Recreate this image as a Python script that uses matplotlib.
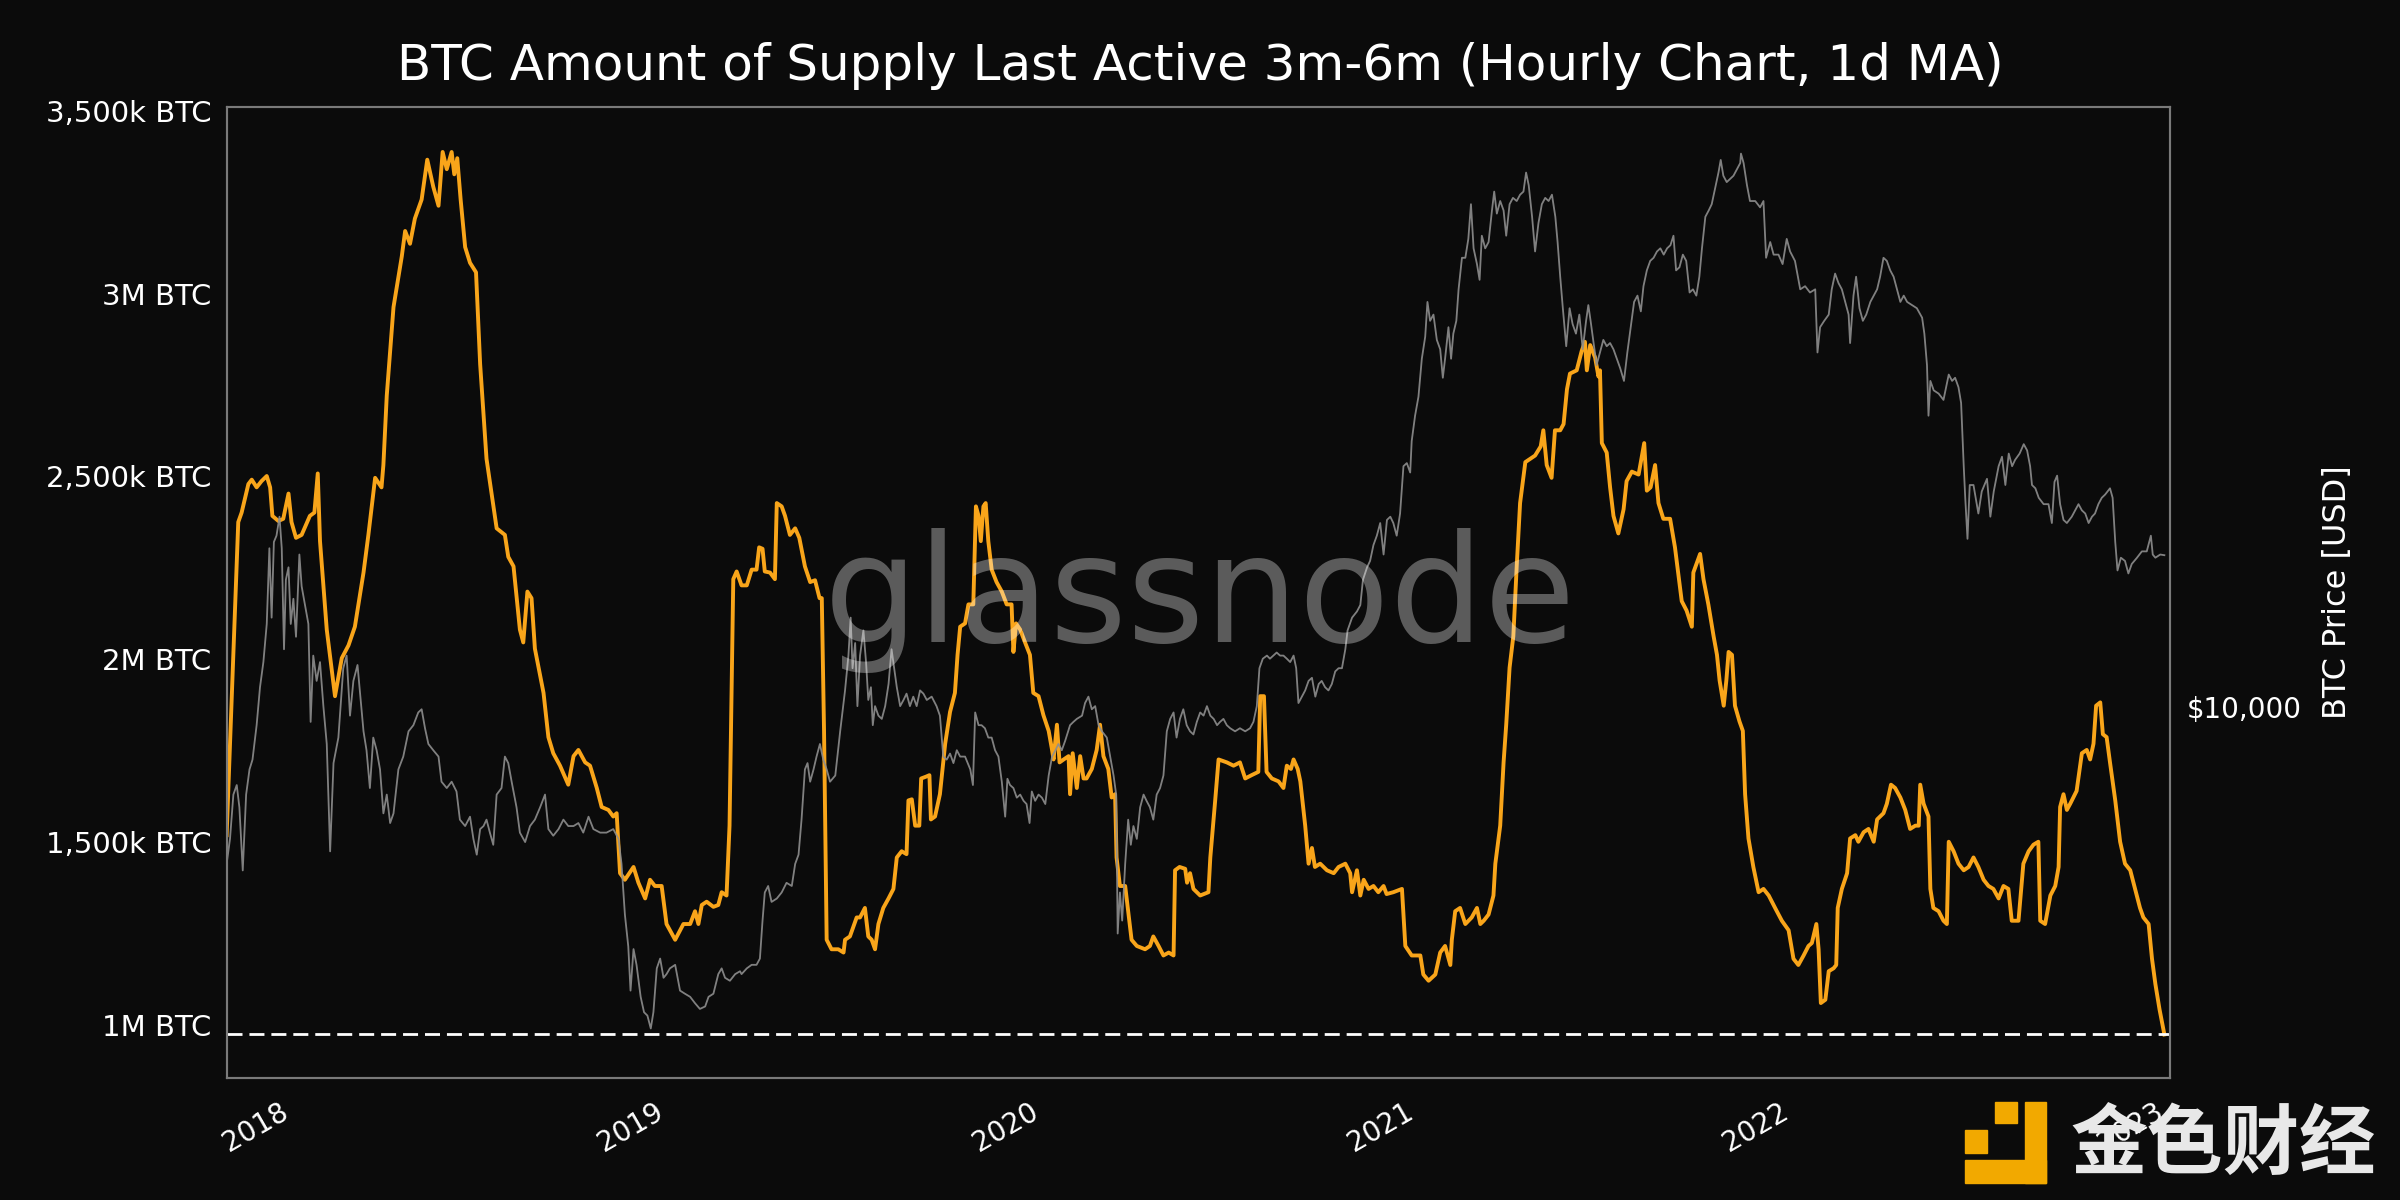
import matplotlib
matplotlib.use("Agg")
import matplotlib.pyplot as plt
from matplotlib.patches import Rectangle
from matplotlib.ticker import NullLocator

# supply last active 3m-6m, in million BTC (time in decimal years)
supply_t = [
    2017.823, 2017.854, 2017.863, 2017.881, 2017.890, 2017.903, 2017.916, 2017.930, 2017.939, 2017.945,
    2017.961, 2017.974, 2017.988, 2017.996, 2018.008, 2018.023, 2018.045, 2018.057, 2018.066, 2018.072,
    2018.090, 2018.112, 2018.130, 2018.148, 2018.165, 2018.188, 2018.201, 2018.219, 2018.236, 2018.241,
    2018.250, 2018.268, 2018.290, 2018.299, 2018.312, 2018.325, 2018.343, 2018.358, 2018.374, 2018.388,
    2018.399, 2018.410, 2018.423, 2018.430, 2018.438, 2018.447, 2018.459, 2018.472, 2018.488, 2018.499,
    2018.516, 2018.543, 2018.565, 2018.574, 2018.588, 2018.605, 2018.614, 2018.625, 2018.636, 2018.645,
    2018.668, 2018.681, 2018.694, 2018.712, 2018.734, 2018.748, 2018.761, 2018.779, 2018.792, 2018.810,
    2018.823, 2018.841, 2018.854, 2018.863, 2018.872, 2018.885, 2018.908, 2018.921, 2018.939, 2018.952,
    2018.965, 2018.983, 2018.996, 2019.019, 2019.041, 2019.059, 2019.072, 2019.081, 2019.090, 2019.103,
    2019.121, 2019.134, 2019.143, 2019.156, 2019.164, 2019.174, 2019.183,
    2019.196, 2019.210, 2019.223, 2019.236, 2019.243, 2019.252, 2019.258, 2019.272, 2019.285, 2019.290,
    2019.303, 2019.312, 2019.325, 2019.339, 2019.350, 2019.365, 2019.379, 2019.392, 2019.404, 2019.410,
    2019.416, 2019.423, 2019.436, 2019.454, 2019.468, 2019.472, 2019.485, 2019.503, 2019.512, 2019.525,
    2019.534, 2019.543, 2019.552, 2019.561, 2019.574, 2019.588, 2019.601, 2019.610, 2019.623, 2019.636,
    2019.641, 2019.650, 2019.659, 2019.670, 2019.675, 2019.688, 2019.697, 2019.701, 2019.712, 2019.725,
    2019.739, 2019.752, 2019.765, 2019.772, 2019.779, 2019.792, 2019.801, 2019.814, 2019.821, 2019.828,
    2019.834, 2019.841, 2019.847, 2019.854, 2019.863, 2019.876, 2019.890, 2019.903, 2019.916, 2019.921,
    2019.928, 2019.939, 2019.952, 2019.965, 2019.974, 2019.988, 2020.001, 2020.015, 2020.024, 2020.028,
    2020.037, 2020.044, 2020.055, 2020.068, 2020.072, 2020.079, 2020.090, 2020.099, 2020.108, 2020.116,
    2020.130, 2020.143, 2020.152, 2020.161, 2020.174, 2020.183, 2020.192, 2020.196, 2020.205, 2020.219,
    2020.236, 2020.250, 2020.272, 2020.285, 2020.294, 2020.308, 2020.321, 2020.335, 2020.348, 2020.352,
    2020.364, 2020.379, 2020.384, 2020.392, 2020.401, 2020.419, 2020.441, 2020.446, 2020.459, 2020.468,
    2020.490, 2020.508, 2020.525, 2020.539, 2020.556, 2020.574, 2020.579, 2020.589, 2020.596, 2020.610,
    2020.628, 2020.641, 2020.650, 2020.661, 2020.668, 2020.679, 2020.686, 2020.699, 2020.708, 2020.717,
    2020.725, 2020.739, 2020.757, 2020.775, 2020.788, 2020.806, 2020.819, 2020.824, 2020.837, 2020.846,
    2020.855, 2020.868, 2020.881, 2020.894, 2020.908, 2020.916, 2020.934, 2020.957, 2020.966, 2020.983,
    2021.006, 2021.014, 2021.028, 2021.046, 2021.059, 2021.072, 2021.086, 2021.090, 2021.099, 2021.112,
    2021.126, 2021.143, 2021.157, 2021.166, 2021.175, 2021.188, 2021.201, 2021.206, 2021.219, 2021.228,
    2021.235, 2021.244, 2021.254, 2021.263, 2021.272, 2021.286, 2021.299, 2021.312, 2021.327, 2021.334,
    2021.343, 2021.356, 2021.365, 2021.379, 2021.388, 2021.397, 2021.405, 2021.423, 2021.436, 2021.445,
    2021.450, 2021.459, 2021.472, 2021.481, 2021.485, 2021.490, 2021.503, 2021.512, 2021.521, 2021.534,
    2021.548, 2021.556, 2021.570, 2021.588, 2021.603, 2021.610, 2021.620, 2021.632, 2021.641, 2021.654,
    2021.672, 2021.685, 2021.703, 2021.716, 2021.730, 2021.734, 2021.752,
    2021.761, 2021.774, 2021.788, 2021.797, 2021.804, 2021.815, 2021.822, 2021.828, 2021.837, 2021.845,
    2021.857, 2021.866, 2021.872, 2021.881, 2021.894, 2021.908, 2021.921, 2021.935, 2021.952, 2021.970,
    2021.988, 2022.001, 2022.014, 2022.028, 2022.041, 2022.050, 2022.062, 2022.068, 2022.074, 2022.086,
    2022.095, 2022.108, 2022.115, 2022.119, 2022.130, 2022.144, 2022.152, 2022.166, 2022.174, 2022.188,
    2022.201, 2022.215, 2022.224, 2022.241, 2022.250, 2022.261, 2022.272, 2022.286, 2022.299, 2022.312,
    2022.326, 2022.335, 2022.339, 2022.348, 2022.361, 2022.366, 2022.374, 2022.388, 2022.401, 2022.410,
    2022.415, 2022.428, 2022.441, 2022.455, 2022.468, 2022.481, 2022.494, 2022.508, 2022.521, 2022.534,
    2022.548, 2022.561, 2022.574, 2022.583, 2022.601, 2022.614, 2022.628, 2022.641, 2022.654, 2022.659,
    2022.672, 2022.686, 2022.699, 2022.708, 2022.712, 2022.721, 2022.730, 2022.739, 2022.756, 2022.770,
    2022.783, 2022.792, 2022.801, 2022.808, 2022.819, 2022.826, 2022.836, 2022.845, 2022.859, 2022.872,
    2022.885, 2022.899, 2022.912, 2022.925, 2022.934, 2022.948, 2022.957, 2022.966, 2022.977, 2022.990,
]
supply_m = [
    1.519, 2.375, 2.401, 2.479, 2.491, 2.470, 2.487, 2.501, 2.470, 2.392,
    2.378, 2.384, 2.453, 2.375, 2.332, 2.340, 2.392, 2.401, 2.508, 2.323,
    2.081, 1.899, 2.003, 2.038, 2.089, 2.237, 2.340, 2.496, 2.470, 2.531,
    2.721, 2.963, 3.101, 3.171, 3.136, 3.205, 3.257, 3.366, 3.292, 3.240,
    3.387, 3.340, 3.387, 3.326, 3.370, 3.257, 3.127, 3.084, 3.058, 2.807,
    2.548, 2.358, 2.340, 2.280, 2.254, 2.081, 2.046, 2.185, 2.167, 2.029,
    1.908, 1.787, 1.743, 1.709, 1.657, 1.735, 1.752, 1.718, 1.709, 1.648,
    1.596, 1.588, 1.570, 1.579, 1.415, 1.397, 1.432, 1.389, 1.346, 1.397,
    1.380, 1.380, 1.276, 1.233, 1.276, 1.276, 1.311, 1.276, 1.328, 1.337,
    1.323, 1.328, 1.363, 1.354, 1.545, 2.219, 2.240,
    2.202, 2.202, 2.245, 2.245, 2.306, 2.302, 2.240, 2.237, 2.219, 2.427,
    2.418, 2.392, 2.340, 2.358, 2.332, 2.254, 2.211, 2.216, 2.167, 2.167,
    1.804, 1.233, 1.207, 1.207, 1.198, 1.233, 1.242, 1.294, 1.294, 1.320,
    1.242, 1.233, 1.207, 1.276, 1.320, 1.346, 1.372, 1.458, 1.475, 1.467,
    1.614, 1.617, 1.545, 1.545, 1.674, 1.679, 1.683, 1.562, 1.570, 1.631,
    1.769, 1.856, 1.908, 2.012, 2.089, 2.098, 2.150, 2.150, 2.418, 2.392,
    2.323, 2.418, 2.427, 2.323, 2.245, 2.211, 2.185, 2.150, 2.150, 2.020,
    2.098, 2.081, 2.046, 2.012, 1.908, 1.899, 1.847, 1.804, 1.752, 1.726,
    1.821, 1.718, 1.726, 1.735, 1.631, 1.743, 1.648, 1.735, 1.674, 1.674,
    1.700, 1.752, 1.821, 1.735, 1.700, 1.622, 1.631, 1.458, 1.380, 1.380,
    1.233, 1.216, 1.207, 1.216, 1.242, 1.216, 1.190, 1.198, 1.190, 1.423,
    1.432, 1.427, 1.389, 1.415, 1.372, 1.354, 1.363, 1.458, 1.614, 1.726,
    1.718, 1.709, 1.718, 1.674, 1.683, 1.692, 1.899, 1.899, 1.692, 1.674,
    1.666, 1.648, 1.709, 1.700, 1.726, 1.700, 1.666, 1.545, 1.441, 1.484,
    1.432, 1.441, 1.423, 1.415, 1.432, 1.441, 1.415, 1.363, 1.423, 1.354,
    1.397, 1.372, 1.380, 1.363, 1.380, 1.358, 1.363, 1.372, 1.216, 1.190,
    1.190, 1.138, 1.121, 1.138, 1.198, 1.216, 1.164, 1.233, 1.311, 1.320,
    1.276, 1.294, 1.320, 1.276, 1.285, 1.302, 1.354, 1.441, 1.545, 1.718,
    1.821, 1.977, 2.063, 2.254, 2.427, 2.539, 2.548, 2.557, 2.582, 2.626,
    2.531, 2.496, 2.626, 2.626, 2.643, 2.738, 2.781, 2.790, 2.842, 2.868,
    2.790, 2.859, 2.825, 2.773, 2.790, 2.591, 2.565, 2.470, 2.392, 2.344,
    2.410, 2.487, 2.513, 2.505, 2.591, 2.461, 2.470, 2.531, 2.427, 2.384,
    2.384, 2.306, 2.159, 2.133, 2.089, 2.237, 2.288,
    2.219, 2.150, 2.063, 2.012, 1.942, 1.873, 1.942, 2.020, 2.012, 1.873,
    1.830, 1.804, 1.631, 1.510, 1.432, 1.363, 1.372, 1.354, 1.320, 1.285,
    1.259, 1.181, 1.164, 1.190, 1.216, 1.224, 1.276, 1.207, 1.060, 1.069,
    1.147, 1.155, 1.164, 1.320, 1.372, 1.415, 1.510, 1.519, 1.501, 1.527,
    1.536, 1.501, 1.562, 1.579, 1.605, 1.657, 1.648, 1.622, 1.588, 1.536,
    1.545, 1.545, 1.657, 1.605, 1.570, 1.372, 1.320, 1.311, 1.285, 1.276,
    1.501, 1.475, 1.441, 1.423, 1.432, 1.458, 1.432, 1.397, 1.380, 1.372,
    1.346, 1.380, 1.372, 1.285, 1.285, 1.441, 1.475, 1.493, 1.501, 1.285,
    1.276, 1.354, 1.380, 1.432, 1.596, 1.631, 1.588, 1.605, 1.640, 1.743,
    1.752, 1.726, 1.769, 1.873, 1.882, 1.795, 1.787, 1.718, 1.614, 1.501,
    1.441, 1.423, 1.372, 1.320, 1.294, 1.276, 1.181, 1.112, 1.043, 0.974,
]

# BTC price in USD (time in decimal years)
price_t = [
    2017.823, 2017.832, 2017.841, 2017.850, 2017.857, 2017.866, 2017.875, 2017.884, 2017.892, 2017.903,
    2017.912, 2017.921, 2017.930, 2017.937, 2017.943, 2017.949, 2017.956, 2017.964, 2017.970, 2017.976,
    2017.981, 2017.988, 2017.994, 2018.001, 2018.008, 2018.017, 2018.023, 2018.032, 2018.041, 2018.047,
    2018.054, 2018.063, 2018.072, 2018.081, 2018.090, 2018.099, 2018.108, 2018.121, 2018.134, 2018.143,
    2018.152, 2018.161, 2018.172, 2018.179, 2018.188, 2018.196, 2018.205, 2018.214, 2018.223, 2018.232,
    2018.241, 2018.250, 2018.259, 2018.268, 2018.281, 2018.294, 2018.308, 2018.321, 2018.334, 2018.343,
    2018.352, 2018.361, 2018.374, 2018.388, 2018.396, 2018.410, 2018.423, 2018.436, 2018.445, 2018.459,
    2018.472, 2018.481, 2018.490, 2018.499, 2018.508, 2018.516, 2018.525, 2018.534, 2018.543, 2018.556,
    2018.565, 2018.574, 2018.583, 2018.596, 2018.605, 2018.619, 2018.632, 2018.645, 2018.659, 2018.672,
    2018.681, 2018.694, 2018.708, 2018.721, 2018.734, 2018.748, 2018.761, 2018.774, 2018.788, 2018.801,
    2018.819, 2018.836, 2018.854, 2018.868, 2018.876, 2018.885, 2018.894, 2018.900, 2018.908, 2018.916,
    2018.927, 2018.936, 2018.945, 2018.954, 2018.961, 2018.970, 2018.979, 2018.988, 2018.996, 2019.005,
    2019.019, 2019.032, 2019.045, 2019.059, 2019.072, 2019.085, 2019.099, 2019.108, 2019.121, 2019.134,
    2019.143, 2019.152, 2019.165, 2019.179, 2019.192,
    2019.196, 2019.210, 2019.223, 2019.236, 2019.245, 2019.252, 2019.258, 2019.267, 2019.276, 2019.290,
    2019.303, 2019.316, 2019.330, 2019.339, 2019.348, 2019.356, 2019.365, 2019.372, 2019.379, 2019.388,
    2019.396, 2019.405, 2019.414, 2019.423, 2019.432, 2019.446, 2019.459, 2019.472, 2019.481, 2019.487,
    2019.492, 2019.499, 2019.505, 2019.512, 2019.521, 2019.528, 2019.534, 2019.541, 2019.546, 2019.552,
    2019.561, 2019.570, 2019.579, 2019.588, 2019.596, 2019.603, 2019.610, 2019.619, 2019.628, 2019.636,
    2019.645, 2019.654, 2019.663, 2019.672, 2019.681, 2019.690, 2019.703, 2019.716, 2019.725, 2019.734,
    2019.743, 2019.752, 2019.761, 2019.770, 2019.779, 2019.792, 2019.806, 2019.813, 2019.819, 2019.828,
    2019.836, 2019.845, 2019.854, 2019.863, 2019.872, 2019.881, 2019.890, 2019.899, 2019.905, 2019.912,
    2019.921, 2019.930, 2019.939, 2019.948, 2019.956, 2019.964, 2019.970, 2019.979, 2019.988, 2019.997,
    2020.006, 2020.015, 2020.024, 2020.033, 2020.041, 2020.050, 2020.059, 2020.072, 2020.081, 2020.090,
    2020.104, 2020.112, 2020.121, 2020.130, 2020.139, 2020.148, 2020.157, 2020.170, 2020.179, 2020.188,
    2020.195, 2020.199, 2020.205, 2020.211, 2020.219, 2020.227, 2020.234, 2020.241, 2020.250, 2020.259,
    2020.268, 2020.276, 2020.285, 2020.294, 2020.303, 2020.312, 2020.321, 2020.330, 2020.339, 2020.348,
    2020.356, 2020.365, 2020.374, 2020.383, 2020.392, 2020.401, 2020.410, 2020.419, 2020.428, 2020.437,
    2020.446, 2020.455, 2020.464,
    2020.472, 2020.481, 2020.490, 2020.499, 2020.512, 2020.525, 2020.539, 2020.552, 2020.561, 2020.570,
    2020.577, 2020.586, 2020.597, 2020.605, 2020.614, 2020.623, 2020.632, 2020.641, 2020.650, 2020.659,
    2020.668, 2020.675, 2020.681, 2020.690, 2020.699, 2020.708, 2020.717, 2020.726, 2020.735, 2020.743,
    2020.752, 2020.761, 2020.770, 2020.779, 2020.788, 2020.797, 2020.806, 2020.812, 2020.824, 2020.837,
    2020.846, 2020.853, 2020.864, 2020.872, 2020.881, 2020.890, 2020.899, 2020.908, 2020.917, 2020.926,
    2020.934, 2020.943, 2020.952, 2020.961, 2020.970, 2020.979, 2020.983, 2020.992, 2021.001, 2021.010,
    2021.019, 2021.025, 2021.032, 2021.041, 2021.050, 2021.059, 2021.066, 2021.072, 2021.081, 2021.088,
    2021.094, 2021.102, 2021.108, 2021.117, 2021.126, 2021.134, 2021.141, 2021.148, 2021.157, 2021.164,
    2021.170, 2021.179, 2021.188, 2021.197, 2021.203, 2021.210, 2021.219, 2021.228, 2021.235, 2021.244,
    2021.253, 2021.263, 2021.272, 2021.281, 2021.288, 2021.295, 2021.304, 2021.312, 2021.321, 2021.330,
    2021.339, 2021.348, 2021.357, 2021.366, 2021.372, 2021.379, 2021.386, 2021.395, 2021.404, 2021.412,
    2021.421, 2021.430, 2021.439, 2021.448, 2021.454, 2021.460, 2021.468, 2021.476, 2021.485, 2021.494,
    2021.503, 2021.512, 2021.521, 2021.530, 2021.539, 2021.549, 2021.558, 2021.567, 2021.576, 2021.585,
    2021.594, 2021.601, 2021.610, 2021.619, 2021.628, 2021.637, 2021.646, 2021.655, 2021.664, 2021.673,
    2021.681, 2021.688, 2021.697, 2021.706, 2021.715, 2021.724, 2021.733, 2021.742, 2021.750, 2021.757,
    2021.766, 2021.775, 2021.783, 2021.792, 2021.801, 2021.807, 2021.814, 2021.823, 2021.832, 2021.841,
    2021.850, 2021.859,
    2021.861, 2021.868, 2021.877, 2021.885, 2021.899, 2021.912, 2021.921, 2021.928, 2021.939, 2021.948,
    2021.961, 2021.972, 2021.983, 2021.992, 2022.005, 2022.019, 2022.032, 2022.045, 2022.059, 2022.065,
    2022.072, 2022.083, 2022.095, 2022.103, 2022.112, 2022.121, 2022.130, 2022.139, 2022.148, 2022.152,
    2022.161, 2022.168, 2022.177, 2022.186, 2022.195, 2022.206, 2022.215, 2022.224, 2022.232, 2022.241,
    2022.250, 2022.259, 2022.268, 2022.277, 2022.286, 2022.295, 2022.304, 2022.317, 2022.330, 2022.344,
    2022.350, 2022.357, 2022.361, 2022.366, 2022.375, 2022.388, 2022.401, 2022.415, 2022.424, 2022.432,
    2022.441, 2022.448, 2022.455, 2022.459, 2022.465, 2022.471, 2022.481, 2022.494, 2022.503, 2022.517,
    2022.526, 2022.535, 2022.548, 2022.557, 2022.566, 2022.575, 2022.584, 2022.592, 2022.604, 2022.615,
    2022.624, 2022.632, 2022.637, 2022.646, 2022.655, 2022.668, 2022.681, 2022.690, 2022.697, 2022.704,
    2022.712, 2022.721, 2022.730, 2022.743, 2022.752, 2022.761, 2022.770, 2022.779, 2022.788, 2022.797,
    2022.805, 2022.814, 2022.823, 2022.832, 2022.845, 2022.852, 2022.859, 2022.865, 2022.874, 2022.885,
    2022.894, 2022.903, 2022.917, 2022.930, 2022.943, 2022.954, 2022.959, 2022.966, 2022.979, 2022.990,
]
price_usd = [
    5760, 6290, 7350, 7600, 7030, 5630, 7350, 8030, 8310, 9380,
    10720, 11710, 13390, 17470, 13690, 17860, 18260, 19520, 17470, 12250,
    15640, 16340, 13390, 14630, 12800, 17090, 15290, 14310, 13390, 9490,
    11980, 10960, 11710, 10030, 8780, 6020, 8210, 8980, 11460, 11980,
    9700, 10960, 11590, 10480, 9180, 8590, 7520, 8980, 8590, 8030,
    6880, 7350, 6650, 6880, 8030, 8400, 9180, 9380, 9810, 9920,
    9280, 8780, 8590, 8400, 7690, 7520, 7690, 7430, 6730, 6580,
    6800, 6290, 5950, 6510, 6580, 6730, 6430, 6160, 7350, 7520,
    8400, 8210, 7690, 7030, 6430, 6220, 6580, 6730, 7030, 7350,
    6510, 6360, 6510, 6730, 6580, 6580, 6650, 6430, 6800, 6510,
    6430, 6430, 6510, 6290, 5760, 4820, 4310, 3690, 4270, 4040,
    3610, 3420, 3380, 3230, 3420, 3990, 4130, 3860, 3910, 3990,
    4040, 3690, 3650, 3610, 3530, 3460, 3490, 3610, 3650, 3910,
    3990, 3860, 3820, 3910, 3950,
    3910, 3990, 4040, 4040, 4130, 4720, 5210, 5330, 5040, 5100,
    5210, 5390, 5330, 5760, 5950, 6730, 8030, 8210, 7690, 8030,
    8400, 8780, 8310, 8030, 7690, 7860, 9180, 10600, 11980, 13690,
    11460, 12520, 10030, 11980, 13090, 11710, 10250, 10720, 9380, 10030,
    9700, 9590, 10030, 10840, 12250, 11460, 10720, 10030, 10250, 10480,
    10030, 10370, 10030, 10600, 10480, 10250, 10370, 10030, 9700, 8400,
    8310, 8490, 8210, 8590, 8400, 8400, 8030, 7600, 9810, 9380,
    9380, 9280, 8980, 8980, 8590, 8400, 7690, 6800, 7770, 7600,
    7520, 7270, 7350, 7190, 7110, 6650, 7430, 7190, 7350, 7270,
    7110, 7860, 8400, 8590, 8780, 8590, 8880, 9380, 9490, 9590,
    9700, 10140, 10370, 9920, 10030, 9380, 9180, 8980, 8400, 7860,
    7350, 4510, 5210, 4720, 5760, 6730, 6160, 6580, 6290, 7030,
    7350, 7190, 7030, 6730, 7350, 7520, 7860, 9180, 9590, 9810,
    8980, 9590, 9920, 9380, 9180, 9080, 9490, 9810, 9700, 10030,
    9700, 9590, 9380,
    9490, 9590, 9380, 9280, 9180, 9280, 9180, 9280, 9490, 10030,
    11460, 11850, 11980, 11850, 11980, 12110, 11980, 11980, 11850, 11710,
    11980, 11460, 10140, 10370, 10600, 10960, 11080, 10370, 10840, 10960,
    10720, 10600, 10840, 11330, 11460, 11460, 12250, 13090, 13690, 13990,
    14310, 15640, 16340, 16710, 17670, 18260, 19090, 17090, 19300, 19520,
    19090, 18260, 19740, 23310, 23570, 22800, 25470, 27840, 29760, 34010,
    36750, 41530, 38860, 39720, 36340, 35160, 31810, 34010, 38000, 34010,
    37150, 38860, 43410, 48500, 48500, 51830, 58550, 50140, 47440, 44880,
    52410, 50140, 51260, 57280, 61210, 56650, 59210, 57280, 52410, 58550,
    59870, 59210, 60540, 61210, 65440, 62590, 56020, 49590, 54790, 58550,
    59870, 59210, 60540, 56020, 51260, 45380, 40620, 35540, 40620, 38430,
    37150, 39720, 35160, 38860, 41070, 38860, 35940, 33260, 34770, 36340,
    35540, 35940, 35160, 34010, 32890, 31460, 34770, 38000, 41530, 42460,
    40170, 43890, 46400, 47970, 48500, 49590, 50140, 49040, 50140, 50700,
    52410, 46400, 46910, 49040, 47970, 42930, 43410, 42460, 45380, 50140,
    56020, 57280, 58550, 61890, 65440, 68410, 64710, 63280, 63990, 64710,
    66180, 67660,
    69950, 67660, 62590, 59210, 59210, 57910, 59210, 48500, 51260, 49040,
    49040, 47440, 51830, 49590, 47970, 43410, 43890, 42930, 43410, 34770,
    38000, 38860, 39720, 43410, 45880, 44380, 43410, 41530, 39720, 35940,
    42460, 45380, 40620, 38860, 39720, 41530, 42460, 43410, 45380, 48500,
    47970, 46400, 45380, 43410, 41530, 42460, 41530, 41070, 40620, 39290,
    37150, 33260, 27840, 31460, 30430, 30090, 29430, 32170, 31460, 31810,
    30770, 29110, 23310, 20860, 18060, 21820, 21820, 19740, 21330, 22300,
    19520, 21330, 23310, 24100, 21820, 24370, 23310, 23840, 24370, 25190,
    24640, 23310, 21820, 21570, 20860, 20400, 20400, 19090, 22060, 22550,
    20400, 19300, 19090, 19520, 19960, 20400, 19960, 19740, 19090, 19520,
    19740, 20400, 20860, 21100, 21570, 20860, 17860, 16160, 16900, 16710,
    15990, 16530, 16900, 17280, 17280, 18260, 17090, 16900, 17090, 17050,
]

year_ticks = [2018, 2019, 2020, 2021, 2022, 2023]
year_labels = ["2018", "2019", "2020", "2021", "2022", "2023"]
supply_ticks = [1.0, 1.5, 2.0, 2.5, 3.0, 3.5]
supply_labels = ["1M BTC", "1,500k BTC", "2M BTC", "2,500k BTC", "3M BTC", "3,500k BTC"]

bg = "#0b0b0b"
orange = "#f9a51a"
spine_col = "#7a7a7a"

fig = plt.figure(figsize=(24, 12), dpi=100, facecolor=bg)
ax = fig.add_axes([227 / 2400, 1 - 1078 / 1200, 1943 / 2400, 971 / 1200])
ax.set_facecolor(bg)

ax.plot(supply_t, supply_m, color=orange, lw=2.8, zorder=3)
ax.axhline(min(supply_m), color="white", lw=2.0, dashes=(5.4, 2.5), zorder=4)
ax.set_xlim(2017.824, 2023.005)
ax.set_ylim(0.855, 3.51)
ax.set_xticks(year_ticks)
ax.set_xticklabels(year_labels, rotation=30, ha="right")
ax.set_yticks(supply_ticks)
ax.set_yticklabels(supply_labels)
ax.tick_params(axis="x", colors="white", labelsize=20, length=0, pad=14)
ax.tick_params(axis="y", colors="white", labelsize=21, length=0, pad=11)

# price on a log scale, right side
ax2 = ax.twinx()
ax2.plot(price_t, price_usd, color="#8e8e8e", lw=1.3, alpha=0.9, zorder=2)
ax2.set_yscale("log")
ax2.set_ylim(2714, 82400)
ax2.set_yticks([10000])
ax2.set_yticklabels(["$10,000"])
ax2.yaxis.set_minor_locator(NullLocator())
ax2.tick_params(axis="y", colors="white", labelsize=20, length=0, pad=12)
ax2.set_ylabel("BTC Price [USD]", color="white", fontsize=23)
ax2.yaxis.set_label_coords(1.078, 0.5)

for a in (ax, ax2):
    for s in a.spines.values():
        s.set_color(spine_col)
        s.set_linewidth(1.5)

fig.text(0.5, 1 - 66 / 1200, "BTC Amount of Supply Last Active 3m-6m (Hourly Chart, 1d MA)",
         ha="center", va="center", color="white", fontsize=36)

# watermark
fig.text(0.5, 1 - 642 / 1200, "glassnode", ha="center", va="baseline",
         fontsize=107, color="white", alpha=0.33, zorder=10)

# corner logo
logo_col = "#f2a900"
for (x0, y0, x1, y1) in [(1995, 1102, 2017, 1123), (2025, 1102, 2046, 1183),
                         (1965, 1160, 2046, 1183), (1965, 1130, 1987, 1153)]:
    fig.add_artist(Rectangle((x0 / 2400, 1 - y1 / 1200), (x1 - x0) / 2400, (y1 - y0) / 1200,
                             transform=fig.transFigure, color=logo_col, zorder=11))
fig.text(2070 / 2400, 1 - 1146 / 1200, "金色财经", ha="left", va="center", fontsize=55,
         family=["Noto Sans CJK SC", "DejaVu Sans"], weight="bold", color="#e8e8e8", zorder=11)

fig.savefig("out.png", dpi=100, facecolor=bg)
